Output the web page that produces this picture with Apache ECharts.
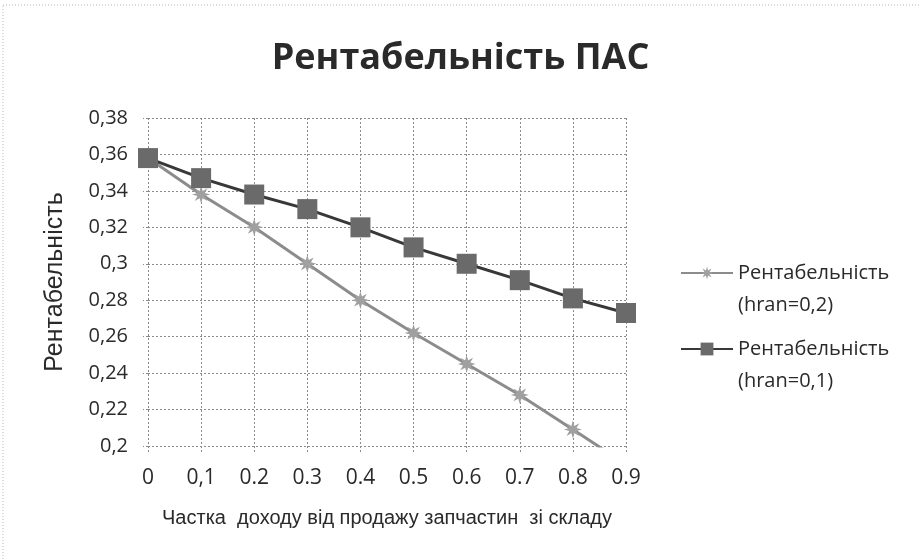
<!DOCTYPE html>
<html lang="uk" style="height: 100%">
<head>
  <meta charset="utf-8">
</head>
<body style="height: 100%; margin: 0; background: #fff">
  <div id="container" style="width: 921px; height: 560px"></div>
  <script type="text/javascript" src="https://cdn.jsdelivr.net/npm/echarts@6/dist/echarts.min.js"></script>
  <script type="text/javascript">
    var categories = ['0', '0,1', '0.2', '0.3', '0.4', '0.5', '0.6', '0.7', '0.8', '0.9'];
    var hran02 = [0.358, 0.338, 0.320, 0.300, 0.280, 0.262, 0.245, 0.228, 0.209, 0.190];
    var hran01 = [0.358, 0.347, 0.338, 0.330, 0.320, 0.309, 0.300, 0.291, 0.281, 0.273];
    var seriesNames = ['Рентабельність\n(hran=0,2)', 'Рентабельність\n(hran=0,1)'];

    // 8-point star, close to the Excel marker
    var starPath = 'path://M100,50 L70.3,58.4 L85.4,85.4 L58.4,70.3 L50,100 L41.6,70.3 L14.6,85.4 L29.7,58.4 L0,50 L29.7,41.6 L14.6,14.6 L41.6,29.7 L50,0 L58.4,29.7 L85.4,14.6 L70.3,41.6 Z';

    var myChart = echarts.init(document.getElementById('container'));

    var dotted = { color: '#8a8a8a', type: [2, 2], width: 1 };

    var option = {
        backgroundColor: '#fff',
        animation: false,
        graphic: [
            {
                type: 'rect',
                shape: { x: 3, y: 5, width: 940, height: 600 },
                style: { fill: 'none', stroke: '#b5b5b5', lineWidth: 1, lineDash: [1, 2] },
                silent: true
            }
        ],
        title: {
            text: 'Рентабельність ПАС',
            left: 'center',
            top: 36,
            textStyle: {
                fontFamily: 'Open Sans',
                fontSize: 36,
                fontWeight: 'bold',
                color: '#2a2a2a'
            }
        },
        grid: {
            left: 148,
            right: 295,
            top: 118,
            bottom: 114
        },
        legend: {
            orient: 'vertical',
            left: 675,
            top: 220,
            itemGap: -20,
            itemWidth: 52,
            itemHeight: 16,
            // blank first line keeps the icon level with the first text line
            formatter: function (name) {
                return ' \n' + name;
            },
            textStyle: {
                fontFamily: 'Open Sans',
                fontSize: 20,
                color: '#2a2a2a',
                lineHeight: 32
            },
            data: seriesNames
        },
        xAxis: {
            type: 'category',
            data: categories,
            boundaryGap: false,
            name: 'Частка  доходу від продажу запчастин  зі складу',
            nameLocation: 'middle',
            nameGap: 62,
            nameTextStyle: {
                fontFamily: 'Liberation Sans',
                fontSize: 20,
                color: '#2a2a2a'
            },
            axisLine: { show: false },
            axisTick: { show: true, length: 7, lineStyle: dotted },
            axisLabel: {
                margin: 22,
                fontFamily: 'Open Sans',
                fontSize: 21,
                color: '#2a2a2a'
            },
            splitLine: { show: true, lineStyle: dotted }
        },
        yAxis: {
            type: 'value',
            min: 0.2,
            max: 0.38,
            interval: 0.02,
            name: 'Рентабельність',
            nameLocation: 'middle',
            nameGap: 80,
            nameTextStyle: {
                fontFamily: 'Liberation Sans',
                fontSize: 25,
                color: '#2a2a2a'
            },
            axisLine: { show: false },
            axisTick: { show: true, length: 5, lineStyle: dotted },
            axisLabel: {
                margin: 20,
                fontFamily: 'Open Sans',
                fontSize: 20,
                color: '#2a2a2a',
                formatter: function (v) {
                    return String(parseFloat(v.toFixed(2))).replace('.', ',');
                }
            },
            splitLine: { show: true, lineStyle: dotted }
        },
        series: [
            {
                name: seriesNames[0],
                type: 'line',
                data: hran02,
                symbol: starPath,
                symbolSize: 18,
                showAllSymbol: true,
                clip: true,
                lineStyle: { color: '#8c8c8c', width: 3 },
                itemStyle: { color: '#a0a0a0' },
                z: 2
            },
            {
                name: seriesNames[1],
                type: 'line',
                data: hran01,
                symbol: 'rect',
                symbolSize: 20,
                showAllSymbol: true,
                lineStyle: { color: '#383838', width: 3 },
                itemStyle: { color: '#6a6a6a' },
                z: 3
            }
        ]
    };

    myChart.setOption(option);
  </script>
</body>
</html>
